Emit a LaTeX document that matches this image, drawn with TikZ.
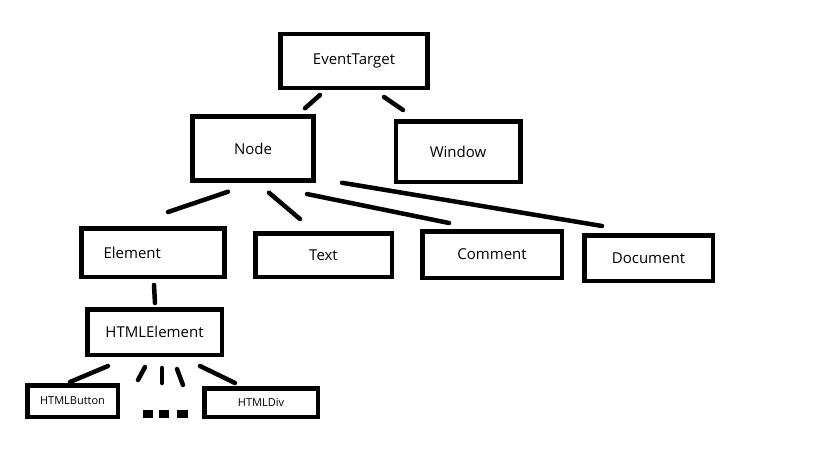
\documentclass[tikz,border=0pt]{standalone}
\usepackage{fontspec}
\setmainfont{Open Sans}

\begin{document}
\begin{tikzpicture}[x=1pt,y=-1pt]
  \tikzstyle{every node}=[font=\fontsize{15}{18}\selectfont]
  \tikzstyle{cls}=[draw, line width=4.5pt, inner sep=2pt]
  \tikzstyle{subcls}=[cls, font=\fontsize{11}{13}\selectfont]
  \tikzstyle{link}=[line width=4.5pt, line cap=round]

  \useasboundingbox (0,0) rectangle (819,460);

  \node[cls, minimum width=147pt, minimum height=53.5pt] (eventtarget) at (354,61) {EventTarget};
  \node[cls, minimum width=121pt, minimum height=64pt] (node) at (253,148.5) {Node};
  \node[cls, minimum width=124.5pt, minimum height=60.5pt] (window) at (458,151.5) {Window};

  \node[cls, text width=99pt, align=left, inner xsep=22pt, minimum height=48.5pt] (element) at (153,252.5) {Element};
  \node[cls, minimum width=136.5pt, minimum height=43.5pt] (text) at (323.5,255) {Text};
  \node[cls, minimum width=139.5pt, minimum height=46.5pt] (comment) at (492,254.5) {Comment};
  \node[cls, minimum width=128.5pt, minimum height=45.5pt] (document) at (648.5,258) {Document};

  \node[cls, minimum width=134.5pt, minimum height=45.5pt] (htmlelement) at (154.5,332) {HTMLElement};
  \node[subcls, minimum width=90.5pt, minimum height=31.5pt] (htmlbutton) at (72.5,401) {HTMLButton};
  \node[subcls, minimum width=113.5pt, minimum height=28.5pt] (htmldiv) at (261,402.5) {HTMLDiv};

  % inheritance links
  \draw[link] ([xshift=-34pt,yshift=-5pt]eventtarget.south) -- ([xshift=52pt,yshift=6pt]node.north);
  \draw[link] ([xshift=30pt,yshift=-7pt]eventtarget.south) -- ([xshift=-55pt,yshift=9pt]window.north);
  \draw[link] ([xshift=-25pt,yshift=-9pt]node.south) -- ([xshift=15pt,yshift=14pt]element.north);
  \draw[link] ([xshift=16pt,yshift=-10pt]node.south) -- ([xshift=-23.5pt,yshift=12pt]text.north);
  \draw[link] ([xshift=-8.7pt,yshift=-11.3pt]node.south east) -- ([xshift=-43pt,yshift=6pt]comment.north);
  \draw[link] ([xshift=26.3pt]node.south east) -- ([xshift=-46.5pt,yshift=7pt]document.north);
  \draw[link] ([xshift=1pt,yshift=-6pt]element.south) -- ([xshift=0.5pt,yshift=4pt]htmlelement.north);
  \draw[link] ([xshift=-46.5pt,yshift=-9pt]htmlelement.south) -- ([xshift=-2.5pt,yshift=1pt]htmlbutton.north);
  \draw[link] ([xshift=45.5pt,yshift=-9pt]htmlelement.south) -- ([xshift=-26pt,yshift=3pt]htmldiv.north);

  % more subclasses
  \foreach \a/\b/\c/\d in {-9.5/-10/-16.5/-23, 7.5/-11/7.5/-26, 22.5/-12/28.5/-28}
    \draw[link] ([xshift=\a pt,yshift=\b pt]htmlelement.south) -- ([xshift=\c pt,yshift=\d pt]htmlelement.south);
  \foreach \x/\w in {143/9.5, 159/10, 177/10.5}
    \fill (\x,410) rectangle ++(\w,7.5);

\end{tikzpicture}
\end{document}
